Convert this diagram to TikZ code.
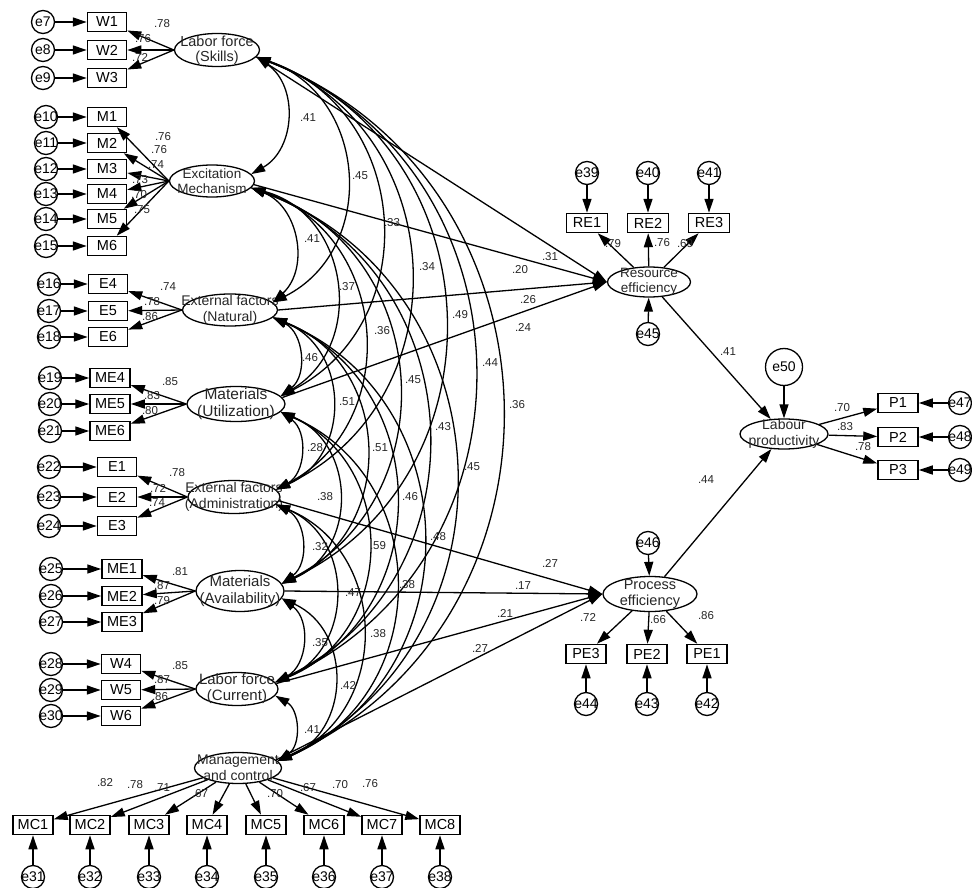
\documentclass[tikz,border=0pt]{standalone}
\usepackage{fontspec}
\setmainfont{Liberation Sans}
\usetikzlibrary{arrows.meta,shapes.geometric}
\newcommand{\zbx}[1]{\makebox[0pt]{#1}}
\begin{document}
\begin{tikzpicture}[x=1pt,y=-1pt,
  lat/.style={ellipse,draw,line width=1.3pt,inner sep=0pt},
  lt/.style={align=center,inner sep=0pt,text=black!85,font=\fontsize{14}{16}\selectfont},
  obs/.style={rectangle,draw,line width=1.5pt,minimum width=39pt,minimum height=19pt,inner sep=0pt,font=\fontsize{14.5}{15}\selectfont},
  err/.style={circle,draw,line width=1.3pt,minimum size=23pt,inner sep=0pt,font=\fontsize{14}{14}\selectfont},
  cf/.style={inner sep=0pt,text=black!85,font=\fontsize{11.5}{12}\selectfont},
  ar/.style={-{Triangle[length=14pt,width=9pt]},line width=1.3pt},
  cv/.style={{Triangle[length=14pt,width=9pt]}-{Triangle[length=14pt,width=9pt]},line width=1.3pt},
  sh/.style={bend left=58,looseness=1.113},
  lg/.style={bend left=67,looseness=1.23}
]
\useasboundingbox (0,0) rectangle (972,888);

% ---------- latent variables (left) ----------
\node[lat,minimum width=85pt,minimum height=33pt] (skills) at (217,50) {};
\node[lt,font=\fontsize{14.5}{15.5}\selectfont] (skillsT) at (217,50) {Labor force\\(Skills)};
\node[lat,minimum width=85pt,minimum height=32pt] (exc) at (212,181) {};
\node[lt,font=\fontsize{13.5}{15.5}\selectfont] (excT) at (212,181) {Excitation\\Mechanism};
\node[lat,minimum width=95pt,minimum height=32pt] (nat) at (230,310) {};
\node[lt] (natT) at (230,310) {External factors\\(Natural)};
\node[lat,minimum width=98pt,minimum height=35pt] (util) at (236,404) {};
\node[lt,font=\fontsize{15.5}{17}\selectfont] (utilT) at (236,404) {Materials\\(Utilization)};
\node[lat,minimum width=92pt,minimum height=33pt] (adm) at (234,497) {};
\node[lt] (admT) at (234,497) {External factors\\(Administration)};
\node[lat,minimum width=88pt,minimum height=41pt] (avail) at (240,591) {};
\node[lt,font=\fontsize{15}{17}\selectfont] (availT) at (240,591) {Materials\\(Availability)};
\node[lat,minimum width=82pt,minimum height=33pt] (cur) at (237,689) {};
\node[lt,font=\fontsize{15}{16}\selectfont] (curT) at (237,689) {Labor force\\(Current)};
\node[lat,minimum width=87pt,minimum height=31pt] (mgmt) at (238,768) {};
\node[lt] (mgmtT) at (238,768) {Management\\and control};

% ---------- latent variables (right) ----------
\node[lat,minimum width=83pt,minimum height=30pt] (re) at (649,282) {};
\node[lt,font=\fontsize{13.5}{15}\selectfont] (reT) at (649,282) {Resource\\efficiency};
\node[lat,minimum width=88pt,minimum height=30pt] (lp) at (784,434) {};
\node[lt] (lpT) at (784,434) {Labour\\productivity};
\node[lat,minimum width=94pt,minimum height=35pt] (pe) at (650,594) {};
\node[lt,font=\fontsize{14.5}{16}\selectfont] (peT) at (650,594) {Process\\efficiency};

% ---------- indicators, left ----------
\foreach \n/\y/\e in {W1/22/7,W2/50/8,W3/78/9}{
  \node[obs] (\n) at (107,\y) {\n};
  \node[err] (e\e) at (43,\y) {\zbx{e\e}};
  \draw[ar] (e\e) -- (\n);
  \draw[ar] (skills.west) -- (\n);
}
\foreach \n/\y/\e in {M1/117/10,M2/143/11,M3/169/12,M4/194/13,M5/219/14,M6/246/15}{
  \node[obs] (\n) at (107,\y) {\n};
  \node[err] (e\e) at (46,\y) {\zbx{e\e}};
  \draw[ar] (e\e) -- (\n);
  \draw[ar] (exc.west) -- (\n);
}
\foreach \n/\y/\e in {E4/284/16,E5/311/17,E6/337/18}{
  \node[obs] (\n) at (108,\y) {\n};
  \node[err] (e\e) at (49,\y) {\zbx{e\e}};
  \draw[ar] (e\e) -- (\n);
  \draw[ar] (nat.west) -- (\n);
}
\foreach \n/\y/\e in {ME4/378/19,ME5/404/20,ME6/431/21}{
  \node[obs,minimum width=40pt] (\n) at (110,\y) {\n};
  \node[err] (e\e) at (50,\y) {\zbx{e\e}};
  \draw[ar] (e\e) -- (\n);
  \draw[ar] (util.west) -- (\n);
}
\foreach \n/\y/\e in {E1/467/22,E2/497/23,E3/526/24}{
  \node[obs] (\n) at (117,\y) {\n};
  \node[err] (e\e) at (49,\y) {\zbx{e\e}};
  \draw[ar] (e\e) -- (\n);
  \draw[ar] (adm.west) -- (\n);
}
\foreach \n/\y/\e in {ME1/569/25,ME2/596/26,ME3/622/27}{
  \node[obs,minimum width=40pt] (\n) at (122,\y) {\n};
  \node[err] (e\e) at (51,\y) {\zbx{e\e}};
  \draw[ar] (e\e) -- (\n);
  \draw[ar] (avail.west) -- (\n);
}
\foreach \n/\y/\e in {W4/664/28,W5/690/29,W6/716/30}{
  \node[obs] (\n) at (121,\y) {\n};
  \node[err] (e\e) at (51,\y) {\zbx{e\e}};
  \draw[ar] (e\e) -- (\n);
  \draw[ar] (cur.west) -- (\n);
}
\foreach \n/\x/\e in {MC1/33/31,MC2/90/32,MC3/149/33,MC4/207/34,MC5/266/35,MC6/324/36,MC7/382/37,MC8/440/38}{
  \node[obs,minimum width=40pt] (\n) at (\x,825) {\n};
  \node[err] (e\e) at (\x,877) {\zbx{e\e}};
  \draw[ar] (e\e) -- (\n);
  \draw[ar] (mgmt) -- (\n);
}

% ---------- indicators, right ----------
\foreach \n/\x/\e in {RE1/587/39,RE2/648/40,RE3/709/41}{
  \node[obs,minimum width=41pt] (\n) at (\x,223) {\n};
  \node[err] (e\e) at (\x,173) {\zbx{e\e}};
  \draw[ar] (e\e) -- (\n);
  \draw[ar] (re) -- (\n);
}
\foreach \n/\y/\e in {P1/403/47,P2/437/48,P3/470/49}{
  \node[obs,minimum width=40pt] (\n) at (898,\y) {\n};
  \node[err] (e\e) at (960,\y) {\zbx{e\e}};
  \draw[ar] (e\e) -- (\n);
  \draw[ar] (lp) -- (\n);
}
\foreach \n/\x/\e in {PE3/586/44,PE2/647/43,PE1/707/42}{
  \node[obs,minimum width=40pt] (\n) at (\x,654) {\n};
  \node[err] (e\e) at (\x,704) {\zbx{e\e}};
  \draw[ar] (e\e) -- (\n);
  \draw[ar] (pe) -- (\n);
}
\node[err] (e45) at (648,334) {\zbx{e45}};
\node[err] (e46) at (648,543) {\zbx{e46}};
\node[err,minimum size=37pt] (e50) at (784,367) {\zbx{e50}};
\draw[ar] (e45) -- (re);
\draw[ar] (e46) -- (pe);
\draw[ar] (e50) -- (lp);
\draw[ar] (re) -- (lp);
\draw[ar] (pe) -- (lp);

% ---------- structural paths ----------
\draw[ar] (skills.-10) -- (re.west);
\draw[ar] (exc.-5) -- (re.west);
\draw[ar] (nat.0) -- (re.west);
\draw[ar] (util.8) -- (re.west);
\draw[ar] (adm.-5) -- (pe.west);
\draw[ar] (avail.0) -- (pe.west);
\draw[ar] (cur.8) -- (pe.west);
\draw[ar] (mgmt.12) -- (pe.west);

% ---------- correlations ----------
\draw[cv] (skills.-10) to[sh] (exc.10);
\draw[cv] (skills.-10) to[lg] (nat.10);
\draw[cv] (skills.-10) to[lg] (util.10);
\draw[cv] (skills.-10) to[lg] (adm.10);
\draw[cv] (skills.-10) to[lg] (avail.10);
\draw[cv] (skills.-10) to[lg] (cur.10);
\draw[cv] (skills.-10) to[lg] (mgmt.10);
\draw[cv] (exc.-10) to[sh] (nat.10);
\draw[cv] (exc.-10) to[lg] (util.10);
\draw[cv] (exc.-10) to[lg] (adm.10);
\draw[cv] (exc.-10) to[lg] (avail.10);
\draw[cv] (exc.-10) to[lg] (cur.10);
\draw[cv] (exc.-10) to[lg] (mgmt.10);
\draw[cv] (nat.-10) to[sh] (util.10);
\draw[cv] (nat.-10) to[lg] (adm.10);
\draw[cv] (nat.-10) to[lg] (avail.10);
\draw[cv] (nat.-10) to[lg] (cur.10);
\draw[cv] (nat.-10) to[lg] (mgmt.10);
\draw[cv] (util.-10) to[sh] (adm.10);
\draw[cv] (util.-10) to[lg] (avail.10);
\draw[cv] (util.-10) to[lg] (cur.10);
\draw[cv] (util.-10) to[lg] (mgmt.10);
\draw[cv] (adm.-10) to[sh] (avail.10);
\draw[cv] (adm.-10) to[lg] (cur.10);
\draw[cv] (adm.-10) to[lg] (mgmt.10);
\draw[cv] (avail.-10) to[sh] (cur.10);
\draw[cv] (avail.-10) to[lg] (mgmt.10);
\draw[cv] (cur.-10) to[sh] (mgmt.10);

% ---------- coefficient labels ----------
\foreach \t/\x/\y [count=\i] in {
  .78/162/24,.76/143/39,.72/140/57,
  .76/163/137,.76/159/150,.74/156/165,.73/140/180,.70/139/195,.75/142/210,
  .74/168/287,.78/152/302,.86/150/317,
  .85/170/382,.83/152/396,.80/150/411,
  .78/177/473,.72/158/488,.74/157/503,
  .81/180/572,.87/162/586,.79/162/601,
  .85/180/666,.87/162/680,.86/160/697,
  .82/105/783,.78/135/785,.71/162/788,.67/200/794,.70/275/794,.67/308/788,.70/340/785,.76/370/784,
  .79/613/244,.76/662/243,.69/685/244,
  .70/842/408,.83/845/427,.78/863/447,
  .72/588/617,.66/658/620,.86/706/616,
  .31/550/257,.20/520/270,.26/528/300,.24/523/327,
  .27/550/563,.17/523/586,.21/505/613,.27/480/648,
  .41/728/352,.44/706/480}
  \node[cf] (lab\i) at (\x,\y) {\t};

\foreach \t/\x/\y [count=\i] in {
  .41/308/118,.45/360/176,.33/392/223,.34/427/267,.49/460/315,.44/490/363,.36/517/405,
  .41/312/239,.37/347/287,.36/382/331,.45/413/380,.43/443/427,.45/472/467,
  .46/310/358,.51/347/402,.51/380/448,.46/410/497,.48/438/537,
  .28/315/448,.38/325/497,.59/378/546,.38/407/585,
  .32/320/547,.47/353/593,.38/378/634,
  .35/320/643,.42/348/685,
  .41/312/730}
  \node[cf] (cor\i) at (\x,\y) {\t};

\end{tikzpicture}
\end{document}
